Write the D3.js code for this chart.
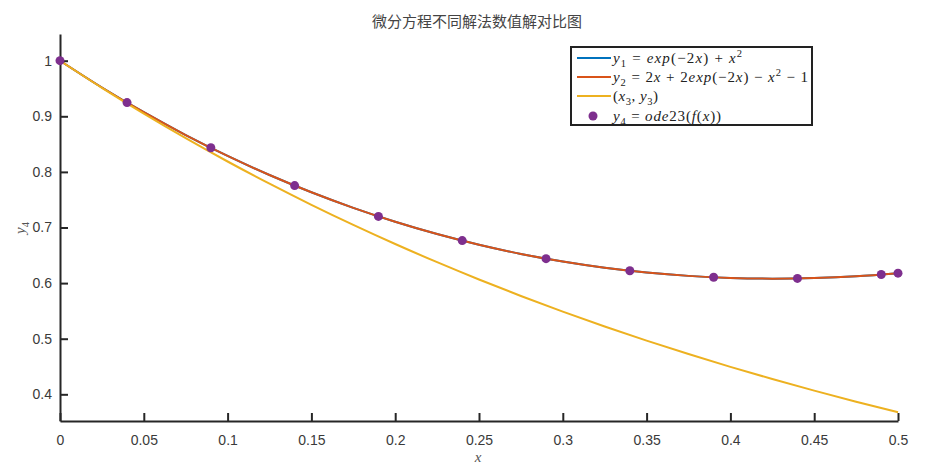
<!DOCTYPE html>
<html><head><meta charset="utf-8">
<script src="https://cdn.jsdelivr.net/npm/d3@7/dist/d3.min.js"></script>
<style>html,body{margin:0;padding:0;background:#fff;}svg{display:block;}</style>
</head><body>
<svg id="c" width="926" height="468"></svg>
<script>
// ---- data ----
const titleText = "微分方程不同解法数值解对比图";
const xSmooth = [0,0.025,0.05,0.075,0.1,0.125,0.15,0.175,0.2,0.225,0.25,0.275,0.3,0.325,0.35,0.375,0.4,0.425,0.45,0.475,0.5];
const y1Values = [1,0.9518,0.9073,0.8663,0.8287,0.7944,0.7633,0.7353,0.7103,0.6882,0.6690,0.6525,0.6388,0.6276,0.6191,0.6130,0.6093,0.6080,0.6091,0.6123,0.6179];
const y2Values = [1,0.9518,0.9073,0.8663,0.8287,0.7944,0.7633,0.7353,0.7103,0.6882,0.6690,0.6525,0.6388,0.6276,0.6191,0.6130,0.6093,0.6080,0.6091,0.6123,0.6179];
const y3Values = [1,0.9512,0.9048,0.8607,0.8187,0.7788,0.7408,0.7047,0.6703,0.6376,0.6065,0.5769,0.5488,0.5220,0.4966,0.4724,0.4493,0.4274,0.4066,0.3867,0.3679];
const xOde = [0,0.04,0.09,0.14,0.19,0.24,0.29,0.34,0.39,0.44,0.49,0.5];
const y4Values = [1,0.9247,0.8434,0.7754,0.7200,0.6764,0.6440,0.6222,0.6105,0.6084,0.6154,0.6179];
const xTicks = [0,0.05,0.1,0.15,0.2,0.25,0.3,0.35,0.4,0.45,0.5];
const xTickLabels = ["0","0.05","0.1","0.15","0.2","0.25","0.3","0.35","0.4","0.45","0.5"];
const yTicks = [0.4,0.5,0.6,0.7,0.8,0.9,1];
const yTickLabels = ["0.4","0.5","0.6","0.7","0.8","0.9","1"];
const legendLabels = ["y_1 = exp(−2x) + x^2","y_2 = 2x + 2exp(−2x) − x^2 − 1","(x_3, y_3)","y_4 = ode23(f(x))"];
const colors = ["#0072BD","#D95319","#EDB120","#7E2F8E"];

// ---- layout ----
const svg = d3.select("#c");
const L = 60, R = 898, T = 34, B = 421;
const x = d3.scaleLinear().domain([0,0.5]).range([L,R]);
const y = d3.scaleLinear().domain([0.352,1.048]).range([B,T]);
const axisColor = "#262626";

// title
svg.append("text").attr("x",477).attr("y",27).attr("text-anchor","middle")
  .attr("font-family","'Noto Sans CJK SC', sans-serif").attr("font-size",15)
  .attr("fill","#444").text(titleText);

// axes
const xa = svg.append("g").attr("transform",`translate(0,${B})`)
  .call(d3.axisBottom(x).tickValues(xTicks).tickFormat((d,i)=>xTickLabels[i]).tickSizeInner(-8).tickSizeOuter(0).tickPadding(14));
const ya = svg.append("g").attr("transform",`translate(${L},0)`)
  .call(d3.axisLeft(y).tickValues(yTicks).tickFormat((d,i)=>yTickLabels[i]).tickSizeInner(-8).tickSizeOuter(0).tickPadding(8));
[xa,ya].forEach(g=>{
  g.select(".domain").attr("stroke",axisColor).attr("stroke-width",2);
  g.selectAll(".tick line").attr("stroke",axisColor).attr("stroke-width",2);
  g.selectAll(".tick text").attr("fill","#3a3a3a").attr("font-family","'Liberation Sans', Arial, sans-serif").attr("font-size",14);
});

// lines
const line = (xs) => d3.line().x((d,i)=>x(xs[i])).y(d=>y(d)).curve(d3.curveMonotoneX);
const plot = svg.append("g");
plot.append("path").datum(y1Values).attr("d",line(xSmooth)).attr("fill","none").attr("stroke",colors[0]).attr("stroke-width",2);
plot.append("path").datum(y2Values).attr("d",line(xSmooth)).attr("fill","none").attr("stroke",colors[1]).attr("stroke-width",2);
plot.append("path").datum(y3Values).attr("d",line(xSmooth)).attr("fill","none").attr("stroke",colors[2]).attr("stroke-width",2);
plot.selectAll("circle.p").data(y4Values).join("circle").attr("class","p")
  .attr("cx",(d,i)=>x(xOde[i])).attr("cy",d=>y(d)).attr("r",4.5).attr("fill",colors[3]);

// math-ish text helper: letters italic, _d subscript, ^d superscript
function mathText(sel, str, size, fill){
  sel.attr("font-family","'Liberation Serif','DejaVu Serif',serif").attr("font-size",size).attr("fill",fill||"#222");
  let i=0, pending=0;
  while(i<str.length){
    const ch=str[i];
    if((ch==="_"||ch==="^") && i+1<str.length){
      const dy = ch==="_" ? size*0.28 : -size*0.4;
      sel.append("tspan").attr("dy",dy+pending).attr("font-size",size*0.7)
        .attr("font-style",/[a-z]/i.test(str[i+1])?"italic":"normal").text(str[i+1]);
      pending = -dy;
      i+=2; continue;
    }
    let j=i; const isLetter=/[a-z]/i.test(ch);
    while(j<str.length && str[j]!=="_" && str[j]!=="^" && /[a-z]/i.test(str[j])===isLetter) j++;
    const seg=str.slice(i,j);
    const ts = sel.append("tspan").attr("font-style",isLetter?"italic":"normal").text(seg);
    if(pending){ ts.attr("dy",pending); pending=0; }
    i=j;
  }
}

// legend
const lg = svg.append("g");
lg.append("rect").attr("x",571).attr("y",47).attr("width",241).attr("height",78)
  .attr("fill","#fff").attr("stroke","#222").attr("stroke-width",2);
const rowY = [58,77,96,116];
const rowW = [129,195,45,108];
legendLabels.forEach((lab,k)=>{
  if(k<3){
    lg.append("line").attr("x1",577).attr("x2",611).attr("y1",rowY[k]).attr("y2",rowY[k])
      .attr("stroke",colors[k]).attr("stroke-width",2);
  } else {
    lg.append("circle").attr("cx",593).attr("cy",rowY[k]).attr("r",4.5).attr("fill",colors[3]);
  }
  const t = lg.append("text").attr("x",613).attr("y",rowY[k]+4.5)
    .attr("textLength",rowW[k]).attr("lengthAdjust","spacing");
  mathText(t, lab, 15);
});

// axis labels
const xl = svg.append("text").attr("x",478).attr("y",462).attr("text-anchor","middle");
mathText(xl,"x",15,"#555");
const yl = svg.append("text").attr("transform","translate(25,228) rotate(-90)").attr("text-anchor","middle");
mathText(yl,"y_4",15,"#555");
</script>
</body></html>
